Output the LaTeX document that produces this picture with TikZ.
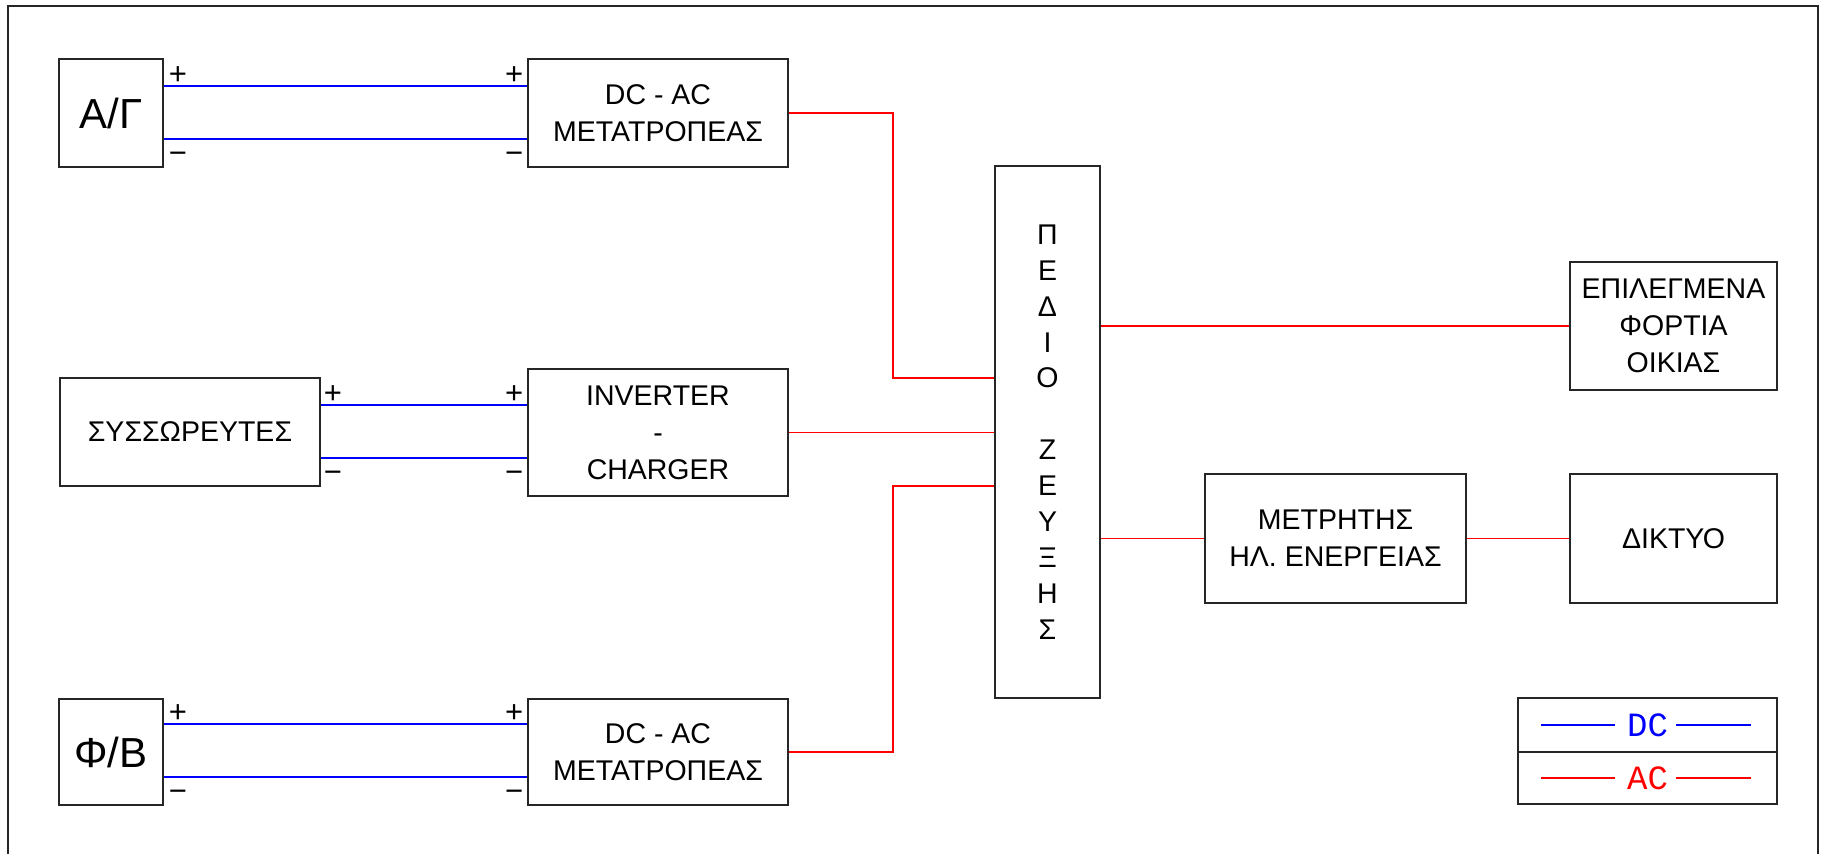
\documentclass[tikz,border=0pt]{standalone}
\usepackage{fontspec}
\setmainfont{Liberation Sans}
\newfontfamily\legendfont{Liberation Mono}
\begin{document}
\begin{tikzpicture}[x=1pt,y=-1pt,
  box/.style={draw=black!85, line width=1.6pt, inner sep=0pt, align=center,
    font=\fontsize{28.5}{37}\selectfont},
  bigtxt/.style={font=\fontsize{42}{42}\selectfont},
  dcline/.style={draw=blue, line width=1.5pt},
  acline/.style={draw=red, line width=1.5pt},
  pm/.style={anchor=base, inner sep=0pt, font=\fontsize{31}{31}\selectfont},
  legtxt/.style={font=\legendfont\fontsize{34}{34}\selectfont},
  frame/.style={draw=black!85, line width=1.6pt}]
\useasboundingbox (0,0) rectangle (1835,854);
% page frame
\draw[frame] (8,854) -- (8,6) -- (1818,6) -- (1818,854);

% sources and converters
\node[box, bigtxt, minimum width=104pt, minimum height=108pt] (ag) at (111,113) {Α/Γ};
\node[box, minimum width=260pt, minimum height=108pt] (dcA) at (658,113) {DC - AC\\ΜΕΤΑΤΡΟΠΕΑΣ};
\node[box, minimum width=260pt, minimum height=108pt] (bat) at (190,432) {ΣΥΣΣΩΡΕΥΤΕΣ};
\node[box, minimum width=260pt, minimum height=127pt] (inv) at (658,432.5) {INVERTER\\-\\CHARGER};
\node[box, bigtxt, minimum width=104pt, minimum height=106pt] (pv) at (111,752) {Φ/Β};
\node[box, minimum width=260pt, minimum height=106pt] (dcB) at (658,752) {DC - AC\\ΜΕΤΑΤΡΟΠΕΑΣ};

% switchboard
\node[box, minimum width=105pt, minimum height=532pt, font=\fontsize{28.5}{35.9}\selectfont]
  (pedio) at (1047.5,432) {Π\\Ε\\Δ\\Ι\\Ο\\[35.9pt]Ζ\\Ε\\Υ\\Ξ\\Η\\Σ};

% loads, meter, grid
\node[box, minimum width=207pt, minimum height=128pt] (load) at (1673.5,326) {ΕΠΙΛΕΓΜΕΝΑ\\ΦΟΡΤΙΑ\\ΟΙΚΙΑΣ};
\node[box, minimum width=261pt, minimum height=129pt] (meter) at (1335.5,538.5) {ΜΕΤΡΗΤΗΣ\\ΗΛ. ΕΝΕΡΓΕΙΑΣ};
\node[box, minimum width=207pt, minimum height=129pt] (grid) at (1673.5,538.5) {ΔΙΚΤΥΟ};

% DC wiring
\coordinate (agP) at ([yshift=27pt]ag.east);
\coordinate (agN) at ([yshift=-26pt]ag.east);
\coordinate (dcAP) at (agP -| dcA.west);
\coordinate (dcAN) at (agN -| dcA.west);
\draw[dcline] (agP) -- (dcAP);
\draw[dcline] (agN) -- (dcAN);

\coordinate (batP) at ([yshift=27pt]bat.east);
\coordinate (batN) at ([yshift=-26pt]bat.east);
\coordinate (invP) at (batP -| inv.west);
\coordinate (invN) at (batN -| inv.west);
\draw[dcline] (batP) -- (invP);
\draw[dcline] (batN) -- (invN);

\coordinate (pvP) at ([yshift=28pt]pv.east);
\coordinate (pvN) at ([yshift=-25pt]pv.east);
\coordinate (dcBP) at (pvP -| dcB.west);
\coordinate (dcBN) at (pvN -| dcB.west);
\draw[dcline] (pvP) -- (dcBP);
\draw[dcline] (pvN) -- (dcBN);

% polarity marks
\foreach \c/\dx in {agP/14, batP/12, pvP/14, dcAP/-13, invP/-13, dcBP/-13}
  \node[pm] at ([xshift=\dx pt, yshift=1.5pt]\c) {+};
\foreach \c/\dx in {agN/14, batN/12, pvN/14, dcAN/-13, invN/-13, dcBN/-13}
  \node[pm] at ([xshift=\dx pt, yshift=-24.5pt]\c) {−};

% AC wiring
\coordinate (jA) at (893,378);
\coordinate (jB) at (893,486);
\draw[acline] (dcA.east) -| (jA) -- (jA -| pedio.west);
\draw[acline] (inv.east) -- (inv.east -| pedio.west);
\draw[acline] (dcB.east) -| (jB) -- (jB -| pedio.west);
\draw[acline] (pedio.east |- load.west) -- (load.west);
\draw[acline] (pedio.east |- meter.west) -- (meter.west);
\draw[acline] (meter.east) -- (grid.west);

% legend
\node[box, legtxt, text=blue, minimum width=259pt, minimum height=54pt] (legDC) at (1647.5,725) {DC};
\node[box, legtxt, text=red, minimum width=259pt, minimum height=52pt] (legAC) at (1647.5,778) {AC};
\draw[dcline] ([xshift=-106.5pt]legDC.center) -- ([xshift=-32.5pt]legDC.center);
\draw[dcline] ([xshift=28.5pt]legDC.center) -- ([xshift=103.5pt]legDC.center);
\draw[acline] ([xshift=-106.5pt]legAC.center) -- ([xshift=-32.5pt]legAC.center);
\draw[acline] ([xshift=28.5pt]legAC.center) -- ([xshift=103.5pt]legAC.center);
\end{tikzpicture}
\end{document}
